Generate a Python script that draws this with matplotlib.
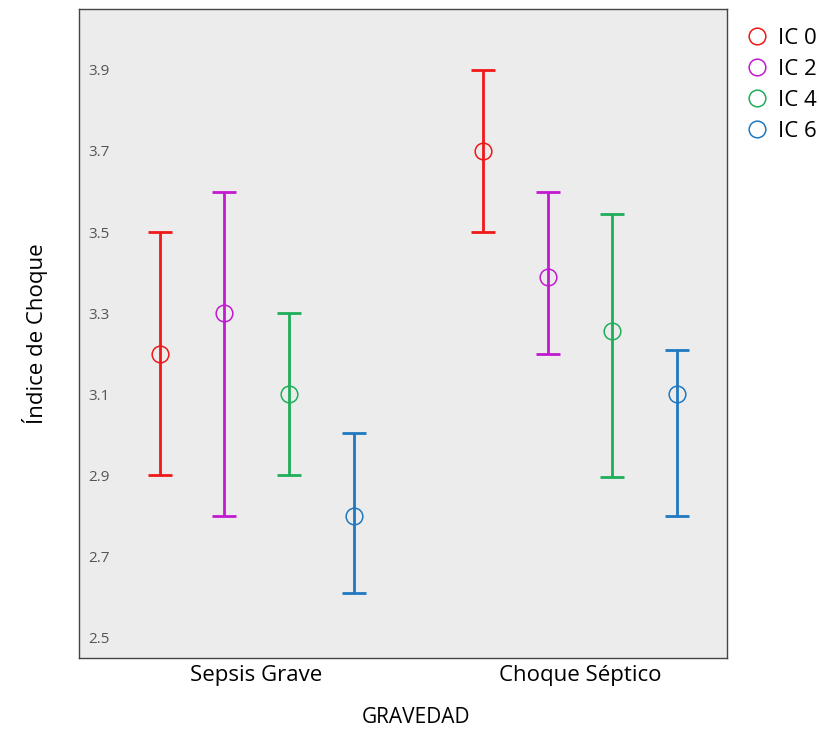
import matplotlib.pyplot as plt
import numpy as np

plt.rcParams["font.family"] = ["Open Sans", "DejaVu Sans"]

groups = ["Sepsis Grave", "Choque Séptico"]
series = ["IC 0", "IC 2", "IC 4", "IC 6"]
colors = ["#f01818", "#c21ad0", "#1fae5a", "#1f78c0"]

# mean, lower, upper per series (Sepsis Grave, Choque Séptico)
means = [[3.20, 3.70], [3.30, 3.39], [3.10, 3.255], [2.80, 3.10]]
lower = [[2.90, 3.50], [2.80, 3.20], [2.90, 2.895], [2.61, 2.80]]
upper = [[3.50, 3.90], [3.60, 3.60], [3.30, 3.545], [3.005, 3.21]]

offsets = [-0.3, -0.1, 0.1, 0.3]

fig = plt.figure(figsize=(8.2, 7.32), dpi=100)
ax = fig.add_axes([0.0963, 0.1011, 0.7903, 0.8866])
ax.set_facecolor("#ececec")

x = np.arange(len(groups))
for i, name in enumerate(series):
    m = np.array(means[i])
    err = [m - np.array(lower[i]), np.array(upper[i]) - m]
    ax.errorbar(x + offsets[i], m, yerr=err, fmt="none", ecolor=colors[i],
                elinewidth=2, capsize=8.5, capthick=2)
    ax.plot(x + offsets[i], m, "o", ms=12, mfc="none", mec=colors[i],
            mew=1.1, label=name)

ax.set_xlim(-0.549, 1.454)
ax.set_ylim(2.45, 4.05)
ax.set_yticks([2.5, 2.7, 2.9, 3.1, 3.3, 3.5, 3.7, 3.9])
ax.set_xticks(x)
ax.set_xticklabels(groups, fontsize=16)
ax.tick_params(axis="x", length=0, pad=5)
ax.tick_params(axis="y", length=0, pad=-6.5, labelsize=11, labelcolor="#555555")
for lab in ax.get_yticklabels():
    lab.set_horizontalalignment("left")

for s in ax.spines.values():
    s.set_color("#444444")
    s.set_linewidth(1)

ax.set_xlabel("GRAVEDAD", fontsize=15)
ax.xaxis.set_label_coords(0.52, -0.075)
ax.set_ylabel("Índice de Choque", fontsize=16, labelpad=22)

ax.legend(loc="upper left", bbox_to_anchor=(1.029, 0.971), frameon=False,
          fontsize=16, handlelength=1.0, handletextpad=0.45, labelspacing=0.45,
          borderpad=0, borderaxespad=0, markerscale=1.0)

fig.savefig("out.png", dpi=100)
